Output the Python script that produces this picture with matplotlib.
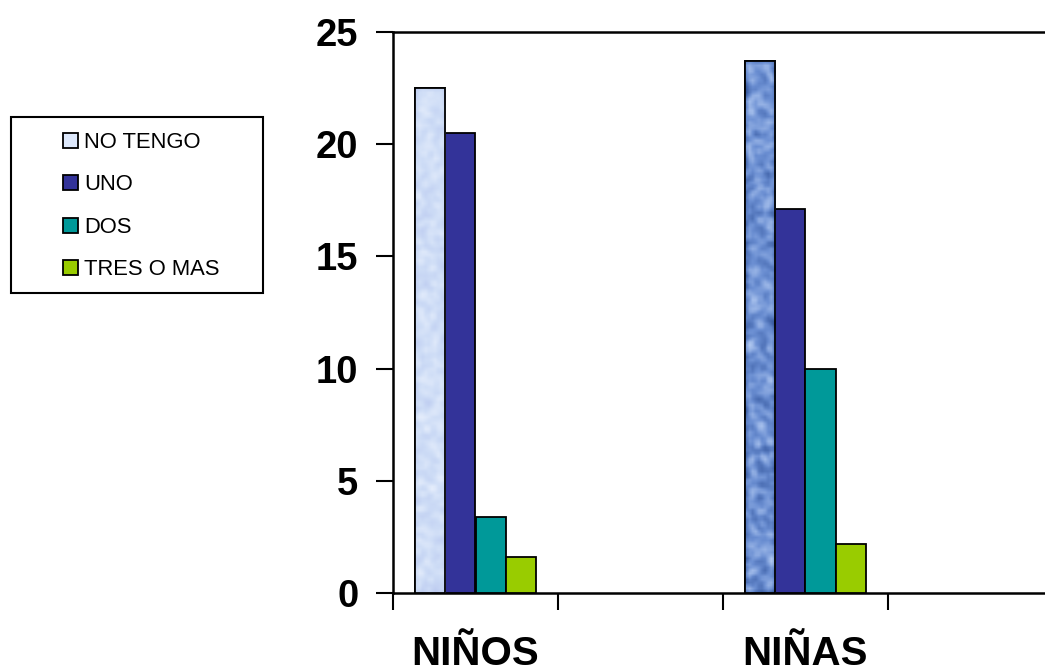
import numpy as np
import matplotlib.pyplot as plt
from matplotlib.patches import Rectangle, Patch
from matplotlib.colors import to_rgb

# Data
groups = ["NIÑOS", "NIÑAS"]
series = ["NO TENGO", "UNO", "DOS", "TRES O MAS"]
no_tengo = [22.5, 23.7]
uno = [20.5, 17.1]
dos = [3.4, 10.0]
tres_o_mas = [1.6, 2.2]
yticks = [0, 5, 10, 15, 20, 25]

colors = ["#d2e0f7", "#333399", "#009999", "#99cc00"]
# textures for the first bar of each group: (base, light, dark)
tex_colors = [("#cddcf6", "#e6eefc", "#bccaf0"),
              ("#6a8ed2", "#b4cbf2", "#34569c")]

plt.rcParams["font.family"] = ["Liberation Sans", "DejaVu Sans"]

fig = plt.figure(figsize=(10.45, 6.72), dpi=100)
ax = fig.add_axes([393 / 1045, 1 - 593 / 672, 660 / 1045, 561 / 672])

values = [no_tengo, uno, dos, tres_o_mas]
centers = np.array([0.5, 2.5])
w = 0.182
bars = []
for i, vals in enumerate(values):
    b = ax.bar(centers + (i - 1.5) * w, vals, width=w, color=colors[i],
               edgecolor="black", linewidth=1.3, zorder=3)
    bars.append(b)


def texture(base, light, dark, rows, cols, seed):
    rng = np.random.default_rng(seed)
    n = rng.random((rows, cols))
    k = np.array([0.25, 0.5, 0.25])
    n = np.apply_along_axis(lambda r: np.convolve(r, k, mode="same"), 0, n)
    n = np.apply_along_axis(lambda r: np.convolve(r, k, mode="same"), 1, n)
    n = (n - n.min()) / (n.max() - n.min())
    b, l, d = (np.array(to_rgb(c)) for c in (base, light, dark))
    t = n[..., None]
    img = np.where(t > 0.5, b + (l - b) * ((t - 0.5) * 2), d + (b - d) * (t * 2))
    return np.clip(img, 0, 1)


# mottled fill on the NO TENGO bars
for j, rect in enumerate(bars[0]):
    x0, wd, h = rect.get_x(), rect.get_width(), rect.get_height()
    img = ax.imshow(texture(*tex_colors[j], rows=int(h * 7.5), cols=10, seed=j + 3),
                    extent=[x0, x0 + wd, 0, h], aspect="auto",
                    interpolation="bilinear", zorder=3.2)
    img.set_clip_path(rect)
    ax.add_patch(Rectangle((x0, 0), wd, h, facecolor="none",
                           edgecolor="black", linewidth=1.3, zorder=3.5))

ax.set_xlim(0, 4)
ax.set_ylim(0, 25)
ax.set_yticks(yticks)
ax.set_yticklabels([str(v) for v in yticks], fontsize=27.5, fontweight="bold")
ax.set_xticks([0, 1, 2, 3])
ax.set_xticklabels([])
ax.set_xticks(centers, minor=True)
ax.set_xticklabels(groups, minor=True, fontsize=29, fontweight="bold")
ax.tick_params(axis="x", which="minor", length=0, pad=30)
ax.tick_params(axis="x", which="major", length=12, width=1.5, direction="out")
ax.tick_params(axis="y", length=12, width=1.5, direction="out", pad=13)
for s in ["left", "bottom", "top"]:
    ax.spines[s].set_linewidth(1.8)
ax.spines["right"].set_visible(False)

# legend
handles = [Patch(facecolor=colors[i], edgecolor="black", linewidth=1.3,
                 label=series[i]) for i in range(4)]
handles[0].set_facecolor("#dde8fb")
fig.legend(handles=handles, loc="upper left", frameon=False,
           bbox_to_anchor=(54 / 1045, 1 - 123 / 672), fontsize=15.8,
           handlelength=0.68, handleheight=0.68, handletextpad=0.3,
           labelspacing=0.98, borderaxespad=0)
fig.patches.append(Rectangle((11 / 1045, 1 - 293 / 672), 252 / 1045,
                             176 / 672, transform=fig.transFigure,
                             facecolor="white", edgecolor="black",
                             linewidth=1.5, zorder=-1))

fig.savefig("out.png", dpi=100)
